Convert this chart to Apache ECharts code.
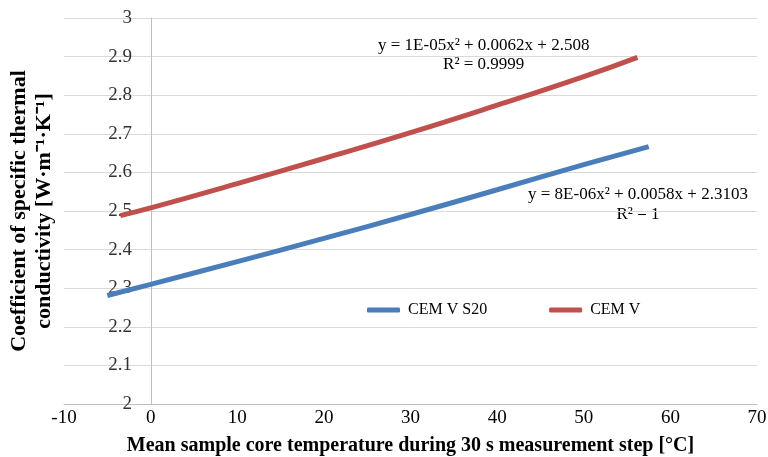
<!DOCTYPE html>
<html>
<head>
<meta charset="utf-8">
<script src="https://cdn.jsdelivr.net/npm/echarts@6/dist/echarts.min.js"></script>
<style>
  html, body { margin: 0; padding: 0; background: #fff; }
  #chart { width: 768px; height: 457px; }
</style>
</head>
<body>
<div id="chart"></div>
<script>
// values: [temperature, conductivity]
var cemVS20 = [[-5, 2.281], [0, 2.31], [10, 2.369], [20, 2.429], [30, 2.491], [40, 2.555], [50, 2.62], [57.5, 2.667]];
var cemV = [[-3.5, 2.488], [0, 2.508], [10, 2.571], [20, 2.636], [30, 2.703], [40, 2.774], [50, 2.848], [56.2, 2.898]];
var seriesNames = ['CEM V S20', 'CEM V'];
var fitLabels = [
  'y = 8E-06x² + 0.0058x + 2.3103\nR² = 1',
  'y = 1E-05x² + 0.0062x + 2.508\nR² = 0.9999'
];

var font = '"Liberation Serif", "Times New Roman", serif';
var chart = echarts.init(document.getElementById('chart'));

chart.setOption({
  animation: false,
  textStyle: { fontFamily: font },
  grid: { left: 64, right: 11, top: 18, bottom: 53, outerBoundsMode: 'none', containLabel: false },
  legend: {
    data: seriesNames,
    left: 362, top: 297,
    itemGap: 62,
    itemWidth: 33, itemHeight: 5,
    icon: 'roundRect',
    textStyle: { fontFamily: font, fontSize: 16, color: '#000', padding: [0, 0, 0, 3] }
  },
  xAxis: {
    type: 'value',
    min: -10, max: 70, interval: 10,
    name: 'Mean sample core temperature during 30 s measurement step [°C]',
    nameLocation: 'middle',
    nameGap: 32,
    nameTextStyle: { fontFamily: font, fontSize: 20, fontWeight: 'bold', color: '#000' },
    axisLine: { lineStyle: { color: '#bfbfbf' } },
    axisTick: { show: false },
    axisLabel: { fontFamily: font, fontSize: 19, color: '#000', margin: 5 },
    splitLine: { show: false }
  },
  yAxis: {
    type: 'value',
    min: 2, max: 3, interval: 0.1,
    // axis drawn where x = 0, as in the original
    offset: -87,
    name: 'Coefficient of specific thermal\nconductivity [W·m⁻¹·K⁻¹]',
    nameLocation: 'middle',
    nameGap: 94,
    nameTextStyle: { fontFamily: font, fontSize: 22, fontWeight: 'bold', color: '#000', lineHeight: 25 },
    axisLine: { show: true, onZero: false, lineStyle: { color: '#bfbfbf' } },
    axisTick: { show: false },
    axisLabel: { fontFamily: font, fontSize: 19, color: '#333', margin: 19 },
    splitLine: { show: true, lineStyle: { color: '#d9d9d9' } }
  },
  graphic: [
    { type: 'text', left: 528, top: 185, style: { text: fitLabels[0], fontFamily: font, fontSize: 17, fill: '#000', lineHeight: 20, align: 'center', textAlign: 'center' } },
    { type: 'text', left: 378, top: 36, style: { text: fitLabels[1], fontFamily: font, fontSize: 17, fill: '#000', lineHeight: 19, align: 'center', textAlign: 'center' } }
  ],
  series: [
    {
      name: seriesNames[0], type: 'line', data: cemVS20,
      smooth: true, showSymbol: false,
      lineStyle: { color: '#4a7ebb', width: 5 },
      itemStyle: { color: '#4a7ebb' }
    },
    {
      name: seriesNames[1], type: 'line', data: cemV,
      smooth: true, showSymbol: false,
      lineStyle: { color: '#c0504d', width: 5 },
      itemStyle: { color: '#c0504d' }
    }
  ]
});
</script>
</body>
</html>
